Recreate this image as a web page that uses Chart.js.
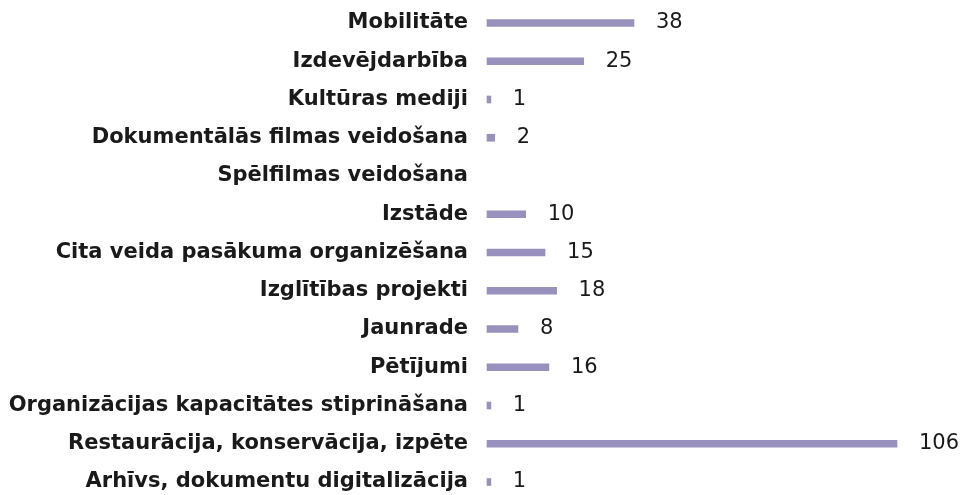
<!DOCTYPE html>
<html lang="lv">
<head>
  <meta charset="UTF-8">
  <title>Projekti pa jomām</title>
  <style>
    html, body { margin: 0; padding: 0; background: #fff; }
    #wrap { width: 963px; height: 495px; }
  </style>
</head>
<body>
  <div id="wrap"><canvas id="grafiks"></canvas></div>
  <script src="https://cdn.jsdelivr.net/npm/chart.js"></script>
  <script>
    const kategorijas = [
      'Mobilitāte',
      'Izdevējdarbība',
      'Kultūras mediji',
      'Dokumentālās filmas veidošana',
      'Spēlfilmas veidošana',
      'Izstāde',
      'Cita veida pasākuma organizēšana',
      'Izglītības projekti',
      'Jaunrade',
      'Pētījumi',
      'Organizācijas kapacitātes stiprināšana',
      'Restaurācija, konservācija, izpēte',
      'Arhīvs, dokumentu digitalizācija'
    ];
    // Spēlfilmas veidošana – bez vērtības
    const vertibas = [38, 25, 1, 2, null, 10, 15, 18, 8, 16, 1, 106, 1];

    // vērtību uzraksti pie stabiņu galiem
    const vertibuUzraksti = {
      id: 'vertibuUzraksti',
      afterDatasetsDraw(chart) {
        const ctx = chart.ctx;
        const meta = chart.getDatasetMeta(0);
        ctx.save();
        ctx.font = '21px "DejaVu Sans"';
        ctx.fillStyle = '#1a1a1a';
        ctx.textAlign = 'left';
        ctx.textBaseline = 'middle';
        meta.data.forEach((bar, i) => {
          if (!vertibas[i]) return;
          ctx.fillText(String(vertibas[i]), bar.x + 22, bar.y);
        });
        ctx.restore();
      }
    };

    new Chart(document.getElementById('grafiks'), {
      type: 'bar',
      data: {
        labels: kategorijas,
        datasets: [{
          data: vertibas,
          backgroundColor: '#9890bd',
          barThickness: 7,
          clip: false
        }]
      },
      options: {
        indexAxis: 'y',
        responsive: true,
        maintainAspectRatio: false,
        animation: false,
        layout: { padding: { top: 23, bottom: 13, right: 66, left: 0 } },
        plugins: { legend: { display: false }, tooltip: { enabled: false } },
        scales: {
          x: { display: false, min: 0, max: 106 },
          y: {
            offset: false,
            grid: { display: false },
            border: { display: false },
            afterFit(scale) {
              scale.width = 487;
              scale.paddingTop = 0;
              scale.paddingBottom = 0;
            },
            ticks: {
              padding: 11,
              color: '#1a1a1a',
              font: { family: '"DejaVu Sans"', size: 21, weight: 'bold' }
            }
          }
        }
      },
      plugins: [vertibuUzraksti]
    });
  </script>
</body>
</html>
